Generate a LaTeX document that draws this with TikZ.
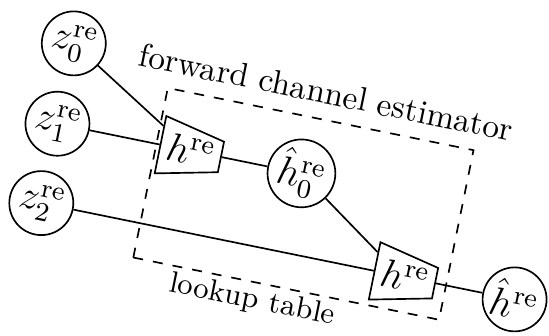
\documentclass[tikz,border=0pt]{standalone}
\usetikzlibrary{shapes.geometric,calc}
\begin{document}
\begin{tikzpicture}[
  x=0.3pt, y=0.3pt,
  var/.style={draw, circle, line width=0.5pt, minimum size=19.2pt, inner sep=0pt, font=\large},
  lut/.style={draw, trapezium, shape border rotate=270, trapezium left angle=75,
              trapezium right angle=75, trapezium stretches=true,
              minimum width=17pt, minimum height=18.5pt,
              inner sep=0.5pt, line width=0.5pt, font=\large},
  wire/.style={line width=0.5pt},
  lbl/.style={anchor=base}
]
  \useasboundingbox (-275,-168) rectangle (274,168);
  \begin{scope}[rotate=-11.5, transform shape]
  %-- Entrées
  \node[var] (z0) at (-222,  82) {$z_0^{\mathrm{re}}$};
  \node[var] (z1) at (-222,   0) {$z_1^{\mathrm{re}}$};
  \node[var] (z2) at (-222, -81) {$z_2^{\mathrm{re}}$};

  %-- Tables
  \node[lut] (lut1) at (-86,   0) {$h^{\mathrm{re}}$};
  \node[lut] (lut2) at (149, -81) {$h^{\mathrm{re}}$};

  %-- Sorties
  \node[var] (h0)   at (27,    0) {$\hat{h}_0^{\mathrm{re}}$};
  \node[var] (hout) at (261, -81) {$\hat{h}^{\mathrm{re}}$};

  %-- Cadre
  \draw[dashed, wire] (-121,-116) rectangle (191,57);
  \node[lbl] (fce) at (35, 73)   {forward channel estimator};
  \node[lbl, font=\small] (lkt) at (4, -142) {lookup table};

  %-- Liaisons
  \draw[wire] (z0)   -- ($(lut1.west)+(0,19)$);
  \draw[wire] (z1)   -- (lut1.west);
  \draw[wire] (lut1.east) -- (h0);
  \draw[wire] (z2)   -- (lut2.west);
  \draw[wire] (h0)   -- ($(lut2.west)+(0,19)$);
  \draw[wire] (lut2.east) -- (hout);
  \end{scope}
\end{tikzpicture}
\end{document}
